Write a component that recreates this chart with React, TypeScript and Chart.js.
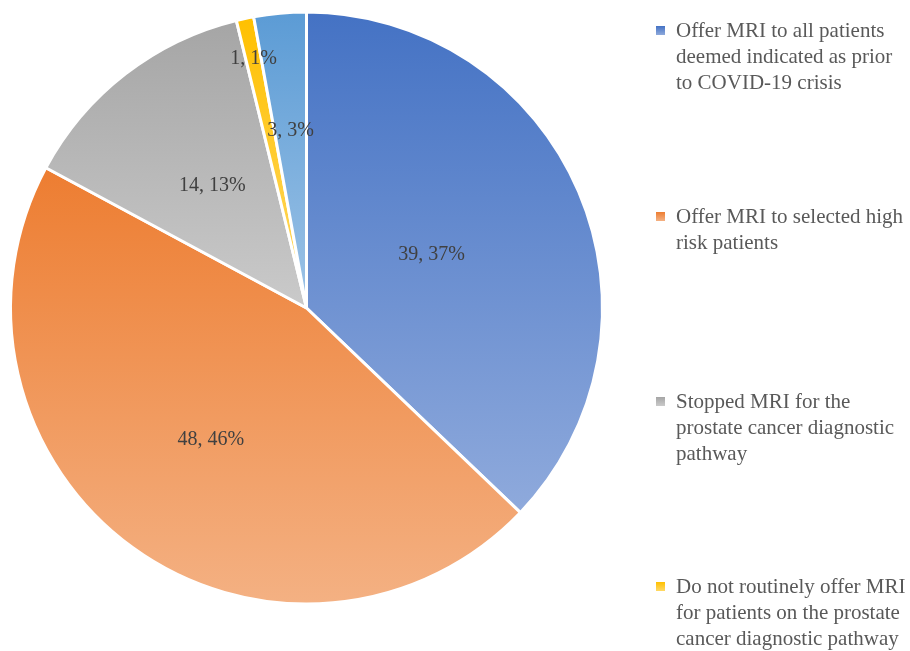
import React, { useEffect, useRef } from "react";
import { Chart, registerables } from "chart.js";

Chart.register(...registerables);

const categories = [
  "Offer MRI to all patients deemed indicated as prior to COVID-19 crisis",
  "Offer MRI to selected high risk patients",
  "Stopped MRI for the prostate cancer diagnostic pathway",
  "Do not routinely offer MRI for patients on the prostate cancer diagnostic pathway",
  "Other",
];
const counts = [39, 48, 14, 1, 3];
const percentLabels = ["37%", "46%", "13%", "1%", "3%"];
const topColors = ["#4472C4", "#ED7D31", "#A5A5A5", "#FFC000", "#5B9BD5"];
const bottomColors = ["#8FAADC", "#F4B183", "#CACACA", "#FFD966", "#9DC3E6"];
const labelRadiusFrac = [0.46, 0.55, 0.52, 0.86, 0.6];

const FONT = "'Liberation Serif', 'DejaVu Serif', serif";

function sliceGradient(ctx: any) {
  const chart = ctx.chart;
  const area = chart.chartArea;
  if (!area) return topColors[ctx.dataIndex];
  const i = ctx.dataIndex;
  const total = counts.reduce((a, b) => a + b, 0);
  let before = 0;
  for (let k = 0; k < i; k++) before += counts[k];
  const a0 = (before / total) * Math.PI * 2;
  const a1 = ((before + counts[i]) / total) * Math.PI * 2;
  const cy = (area.top + area.bottom) / 2;
  const r = Math.min(area.right - area.left, area.bottom - area.top) / 2;
  const ys = [cy, cy - r * Math.cos(a0), cy - r * Math.cos(a1)];
  if (a0 <= 0) ys.push(cy - r);
  if (a0 <= Math.PI && a1 >= Math.PI) ys.push(cy + r);
  const top = Math.min(...ys);
  const bottom = Math.max(...ys);
  const g = chart.ctx.createLinearGradient(0, top, 0, bottom);
  g.addColorStop(0, topColors[i]);
  g.addColorStop(1, bottomColors[i]);
  return g;
}

const labelPlugin = {
  id: "sliceLabels",
  afterDatasetsDraw(chart: any) {
    const meta = chart.getDatasetMeta(0);
    const c = chart.ctx;
    c.save();
    c.font = `20px ${FONT}`;
    c.fillStyle = "#404040";
    c.textAlign = "center";
    c.textBaseline = "middle";
    meta.data.forEach((arc: any, i: number) => {
      const p = arc.getProps(["x", "y", "startAngle", "endAngle", "outerRadius"], true);
      const mid = (p.startAngle + p.endAngle) / 2;
      const d = p.outerRadius * labelRadiusFrac[i];
      const x = p.x + Math.cos(mid) * d;
      const y = p.y + Math.sin(mid) * d;
      c.fillText(`${counts[i]}, ${percentLabels[i]}`, x, y);
    });
    c.restore();
  },
};

export default function App() {
  const ref = useRef<HTMLCanvasElement>(null);
  useEffect(() => {
    if (!ref.current) return;
    const chart = new Chart(ref.current, {
      type: "pie",
      data: {
        labels: categories,
        datasets: [
          {
            data: counts,
            backgroundColor: sliceGradient as any,
            borderColor: "#ffffff",
            borderWidth: 3,
          },
        ],
      },
      options: {
        responsive: false,
        animation: false,
        devicePixelRatio: 1,
        layout: { padding: { left: 9, top: 10, right: 306, bottom: 45 } },
        plugins: {
          legend: { display: false },
          tooltip: { enabled: false },
        },
      },
      plugins: [labelPlugin],
    });
    return () => chart.destroy();
  }, []);

  const legendTops = [17, 203, 388, 573, 758];

  return (
    <div
      style={{
        position: "fixed",
        left: 0,
        top: 0,
        width: 910,
        height: 651,
        overflow: "hidden",
        background: "#fff",
      }}
    >
      <canvas ref={ref} width={910} height={651} style={{ position: "absolute", left: 0, top: 0 }} />
      {categories.map((cat, i) => (
        <div
          key={i}
          style={{
            position: "absolute",
            left: 656,
            top: legendTops[i],
            width: 254,
            display: "flex",
            alignItems: "flex-start",
            fontFamily: FONT,
            fontSize: 21,
            lineHeight: "26px",
            color: "#595959",
          }}
        >
          <span
            style={{
              display: "inline-block",
              width: 9,
              height: 9,
              marginTop: 9,
              marginRight: 11,
              flex: "none",
              background: `linear-gradient(${topColors[i]}, ${bottomColors[i]})`,
            }}
          />
          <span style={{ width: 234, whiteSpace: "normal" }}>{cat}</span>
        </div>
      ))}
    </div>
  );
}
